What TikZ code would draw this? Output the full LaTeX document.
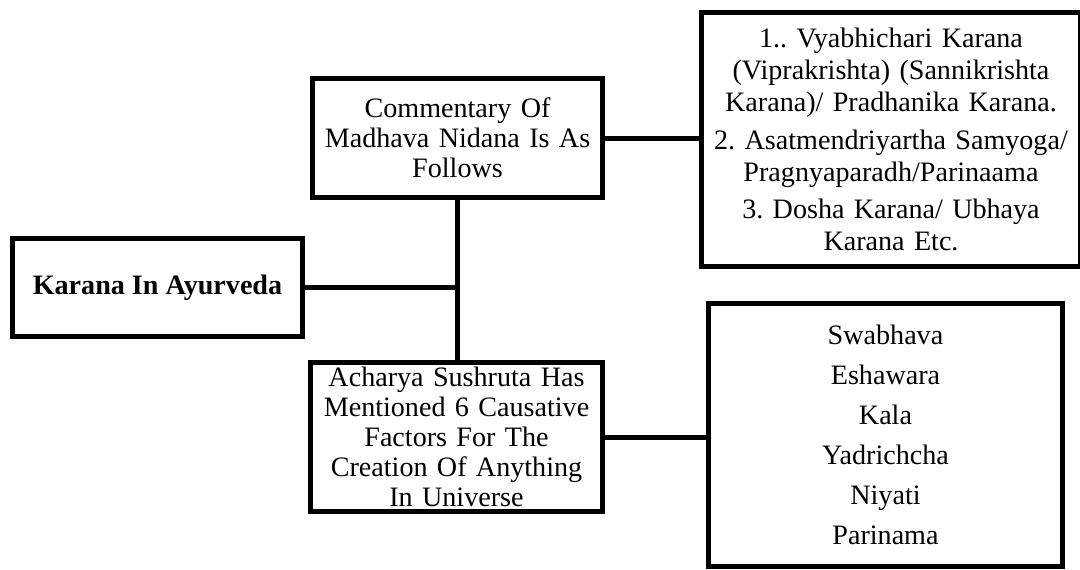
\documentclass[tikz,border=0pt]{standalone}
\usepackage{fontspec}
\setmainfont{Liberation Serif}
\usetikzlibrary{positioning}

\begin{document}
\frenchspacing
\begin{tikzpicture}[
    x=0.02cm, y=-0.02cm,
    box/.style={rectangle, draw=black, line width=0.1cm, inner sep=0pt, align=center, font=\fontsize{16}{17}\selectfont},
    listbox/.style={box, font=\fontsize{16}{22.8}\selectfont},
    link/.style={line width=0.1cm}
]
    \useasboundingbox (0,0) rectangle (1080,569);

    \node[box, minimum width=5.82cm, minimum height=1.98cm, font=\fontsize{16}{17}\selectfont\bfseries] (karana) at (157.5,287.5) {Karana In Ayurveda};
    \node[box, minimum width=5.82cm, minimum height=2.4cm, text width=5.7cm] (comm) at (457.5,138) {Commentary Of\\Madhava Nidana Is As\\Follows};
    \node[box, minimum width=5.86cm, minimum height=3.0cm, text width=5.8cm] (acharya) at (456.5,437) {Acharya Sushruta Has\\Mentioned 6 Causative\\Factors For The\\Creation Of Anything\\In Universe};
    \node[box, minimum width=7.44cm, minimum height=5.1cm, text width=7.6cm, font=\fontsize{16}{18.2}\selectfont] (causes) at (891,139.5) {1.. Vyabhichari Karana\\(Viprakrishta) (Sannikrishta\\Karana)/ Pradhanika Karana.\\[3.4pt]2. Asatmendriyartha Samyoga/\\Pragnyaparadh/Parinaama\\[3.4pt]3. Dosha Karana/ Ubhaya\\Karana Etc.};
    \node[listbox, minimum width=7.1cm, minimum height=5.28cm, text width=7cm] (factors) at (885.5,435) {Swabhava\\Eshawara\\Kala\\Yadrichcha\\Niyati\\Parinama};

    \draw[link] (karana.east) -- (karana.east -| comm.south);
    \draw[link] (comm.south) -- (comm.south |- acharya.north);
    \draw[link] (comm.east) -- (comm.east -| causes.west);
    \draw[link] (acharya.east) -- (acharya.east -| factors.west);
\end{tikzpicture}
\end{document}
